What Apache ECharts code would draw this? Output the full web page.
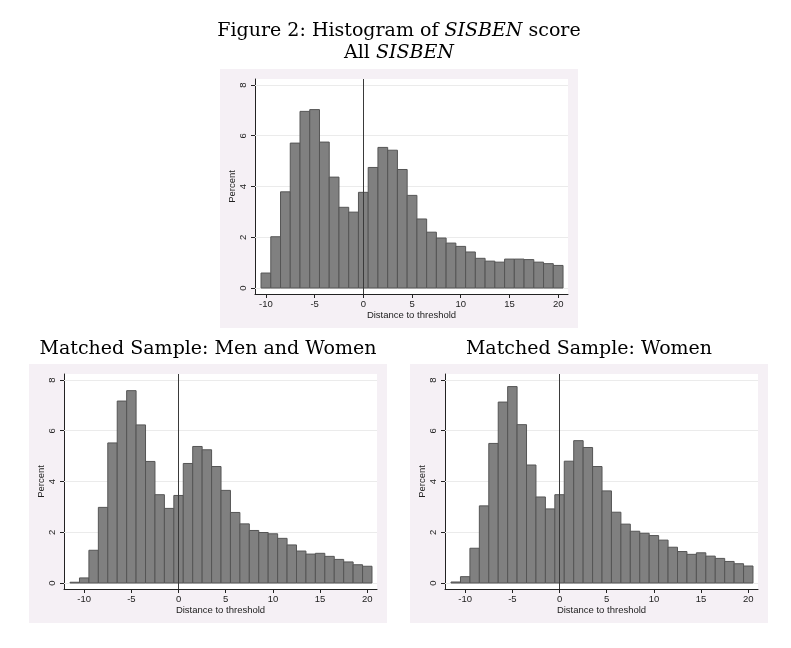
<!DOCTYPE html>
<html>
<head>
<meta charset="utf-8">
<title>Histogram of SISBEN score</title>
<script src="https://cdn.jsdelivr.net/npm/echarts@6/dist/echarts.min.js"></script>
<style>
  html, body { margin: 0; padding: 0; background: #fff; }
  #chart { width: 791px; height: 648px; }
</style>
</head>
<body>
<div id="chart"></div>
<script>
// bin centres (width 1) and percent per bin
var binsAll = [-10, -9, -8, -7, -6, -5, -4, -3, -2, -1, 0, 1, 2, 3, 4, 5, 6, 7, 8, 9,
  10, 11, 12, 13, 14, 15, 16, 17, 18, 19, 20];
var pctAll = [0.59, 2.02, 3.79, 5.71, 6.96, 7.03, 5.75, 4.37, 3.18, 2.99, 3.77, 4.75, 5.54,
  5.43, 4.67, 3.65, 2.72, 2.20, 1.97, 1.77, 1.64, 1.42, 1.17, 1.06, 1.02, 1.14, 1.14,
  1.12, 1.02, 0.96, 0.89];

var binsMatched = [-11, -10, -9, -8, -7, -6, -5, -4, -3, -2, -1, 0, 1, 2, 3, 4, 5, 6, 7, 8,
  9, 10, 11, 12, 13, 14, 15, 16, 17, 18, 19, 20];
var pctMenWomen = [0.03, 0.20, 1.29, 2.98, 5.52, 7.17, 7.58, 6.23, 4.79, 3.48, 2.94, 3.45,
  4.71, 5.38, 5.25, 4.59, 3.65, 2.78, 2.33, 2.07, 1.99, 1.94, 1.76, 1.50, 1.26, 1.14,
  1.17, 1.05, 0.93, 0.83, 0.72, 0.66];
var pctWomen = [0.04, 0.25, 1.37, 3.04, 5.50, 7.13, 7.74, 6.24, 4.65, 3.39, 2.92, 3.48,
  4.80, 5.61, 5.34, 4.59, 3.63, 2.79, 2.32, 2.04, 1.96, 1.87, 1.69, 1.41, 1.24, 1.13,
  1.19, 1.06, 0.97, 0.85, 0.76, 0.67];

var xTicks = [-10, -5, 0, 5, 10, 15, 20];
var yTicks = [0, 2, 4, 6, 8];
var gridValues = [0, 2, 4, 6, 8];
var cutoff = 0;
var BIN_W = 1;

var PANEL_W = 358, PANEL_H = 259;
var PANEL_BG = '#f5f0f5';
var BAR_FILL = '#808080', BAR_EDGE = '#555555';
var INK = '#222222';
var SANS = 'Liberation Sans, Arial, sans-serif';
var SERIF = 'DejaVu Serif, serif';

// each panel: position of the pinkish box, data and x range
var panels = [
  { x: 220, y: 69, bins: binsAll, pct: pctAll, xmin: -11.12, xmax: 21.01 },
  { x: 29, y: 364, bins: binsMatched, pct: pctMenWomen, xmin: -12.14, xmax: 21.03 },
  { x: 410, y: 364, bins: binsMatched, pct: pctWomen, xmin: -12.14, xmax: 21.03 }
];

function renderHist(params, api) {
  var c = api.value(0), h = api.value(1);
  var p0 = api.coord([c - BIN_W / 2, h]);
  var p1 = api.coord([c + BIN_W / 2, 0]);
  return {
    type: 'rect',
    shape: { x: p0[0], y: p0[1], width: p1[0] - p0[0], height: p1[1] - p0[1] },
    style: { fill: BAR_FILL, stroke: BAR_EDGE, lineWidth: 1 }
  };
}

var chart = echarts.init(document.getElementById('chart'), null, { renderer: 'canvas' });

var grids = [], xAxes = [], yAxes = [], series = [], graphics = [];

panels.forEach(function (p, i) {
  graphics.push({
    type: 'rect', z: -10, silent: true,
    shape: { x: p.x, y: p.y, width: PANEL_W, height: PANEL_H },
    style: { fill: PANEL_BG }
  });
  grids.push({
    left: p.x + 35, top: p.y + 10, width: 313, height: 215,
    show: true, backgroundColor: '#ffffff', borderWidth: 0
  });
  xAxes.push({
    gridIndex: i, type: 'value', min: p.xmin, max: p.xmax,
    axisLine: { onZero: false, lineStyle: { color: INK, width: 1 } },
    axisTick: { customValues: xTicks, length: 4, lineStyle: { color: INK } },
    axisLabel: { customValues: xTicks, fontFamily: SANS, fontSize: 9.5, color: INK, margin: 5 },
    splitLine: { show: false },
    name: 'Distance to threshold', nameLocation: 'middle', nameGap: 15,
    nameTextStyle: { fontFamily: SANS, fontSize: 9.5, color: INK }
  });
  yAxes.push({
    gridIndex: i, type: 'value', min: -0.236, max: 8.236,
    axisLine: { show: true, onZero: false, lineStyle: { color: INK, width: 1 } },
    axisTick: { show: true, customValues: yTicks, length: 4, lineStyle: { color: INK } },
    axisLabel: { customValues: yTicks, rotate: 90, fontFamily: SANS, fontSize: 9.5, color: INK, margin: 7 },
    splitLine: { show: false },
    name: 'Percent', nameLocation: 'middle', nameRotate: 90, nameGap: 18,
    nameTextStyle: { fontFamily: SANS, fontSize: 9.5, color: INK }
  });

  // horizontal grid lines, kept behind the bars
  series.push({
    type: 'line', xAxisIndex: i, yAxisIndex: i, data: [], z: 1, silent: true,
    markLine: {
      z: 1, silent: true, symbol: 'none', animation: false, label: { show: false },
      lineStyle: { type: 'solid', color: '#ebebeb', width: 1 },
      data: gridValues.map(function (v) { return { yAxis: v }; })
    }
  });
  series.push({
    type: 'custom', xAxisIndex: i, yAxisIndex: i, z: 2,
    renderItem: renderHist,
    encode: { x: 0, y: 1 },
    data: p.bins.map(function (b, k) { return [b, p.pct[k]]; })
  });
  // the threshold line
  series.push({
    type: 'line', xAxisIndex: i, yAxisIndex: i, data: [], z: 3, silent: true,
    markLine: {
      z: 5, silent: true, symbol: 'none', animation: false, label: { show: false },
      lineStyle: { type: 'solid', color: '#3a3a3a', width: 1 },
      data: [{ xAxis: cutoff }]
    }
  });
});

var titleRich = {
  n: { fontFamily: SERIF, fontSize: 19, fontWeight: 'normal', color: '#000', lineHeight: 22 },
  i: { fontFamily: SERIF, fontSize: 19, fontWeight: 'normal', color: '#000', lineHeight: 22, fontStyle: 'italic' }
};

chart.setOption({
  animation: false,
  backgroundColor: '#ffffff',
  title: [
    {
      text: '{n|Figure 2: Histogram of }{i|SISBEN}{n| score}\n{n|All }{i|SISBEN}',
      left: 399, top: 20, textAlign: 'center', padding: 0,
      textStyle: { fontWeight: 'normal', rich: titleRich }
    },
    {
      text: '{n|Matched Sample: Men and Women}',
      left: 208, top: 338, textAlign: 'center', padding: 0,
      textStyle: { fontWeight: 'normal', rich: titleRich }
    },
    {
      text: '{n|Matched Sample: Women}',
      left: 589, top: 338, textAlign: 'center', padding: 0,
      textStyle: { fontWeight: 'normal', rich: titleRich }
    }
  ],
  graphic: graphics,
  grid: grids,
  xAxis: xAxes,
  yAxis: yAxes,
  series: series
});
</script>
</body>
</html>
